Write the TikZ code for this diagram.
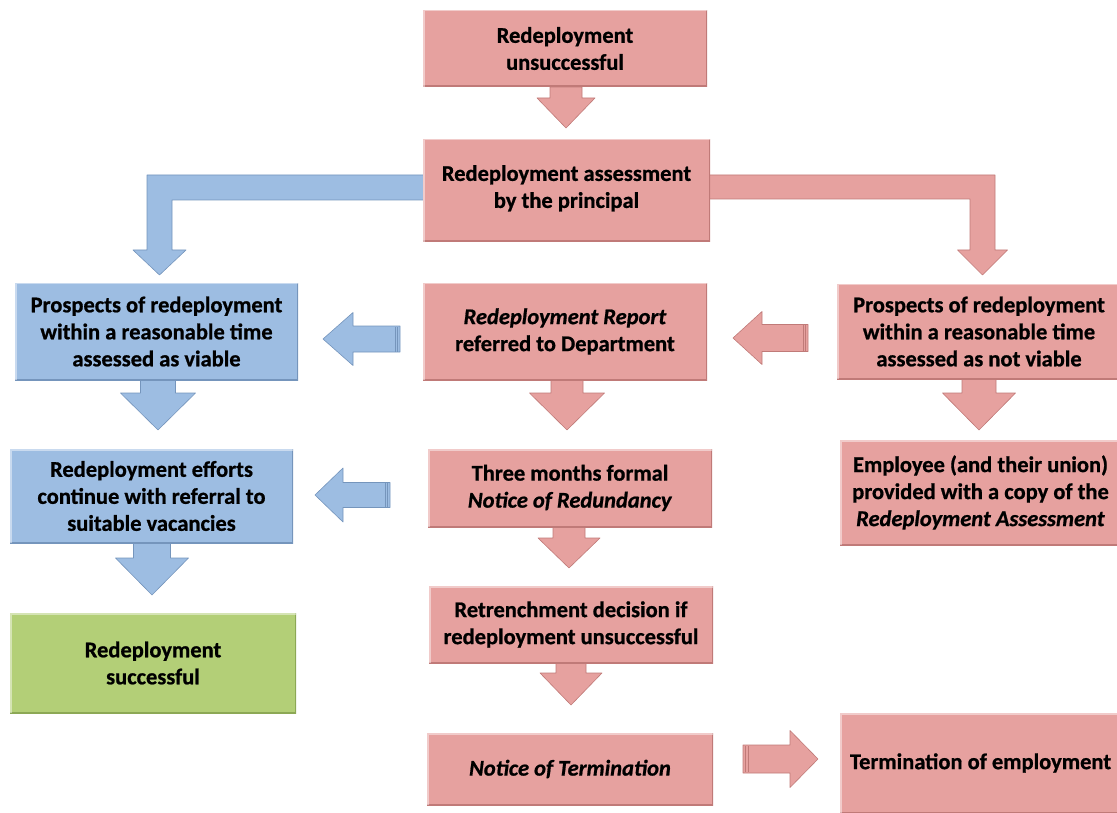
\documentclass[tikz,border=0pt]{standalone}
\usepackage{fontspec}
\setmainfont{Carlito}[BoldFont={Carlito Bold}, ItalicFont={Carlito Italic}, BoldItalicFont={Carlito Bold Italic}, BoldFeatures={FakeBold=0.8}, BoldItalicFeatures={FakeBold=0.8}]
\usetikzlibrary{calc}
\pgfdeclarelayer{background}
\pgfsetlayers{background,main}
\definecolor{pinkf}{HTML}{E6A19F}
\definecolor{pinkd}{HTML}{C07A78}
\definecolor{bluef}{HTML}{9DBDE2}
\definecolor{blued}{HTML}{7595BC}
\definecolor{greenf}{HTML}{B3CF77}
\definecolor{greend}{HTML}{8CA855}
\tikzset{
  bevel/.style 2 args={path picture={
    \draw[line width=3pt,#2] (path picture bounding box.south west) -- (path picture bounding box.south east) -- (path picture bounding box.north east);
    \draw[line width=3pt,white,opacity=0.45] (path picture bounding box.south west) -- (path picture bounding box.north west) -- (path picture bounding box.north east);
  }},
  box/.style={rectangle, inner sep=0pt, align=center, font=\fontsize{22.5}{27}\selectfont\bfseries, text=black},
  pinkbox/.style={box, fill=pinkf, bevel={pinkf}{pinkd}},
  bluebox/.style={box, fill=bluef, bevel={bluef}{blued}},
  greenbox/.style={box, fill=greenf, bevel={greenf}{greend}},
  pinkarr/.style={fill=pinkf, draw=pinkd, line width=0.6pt, line join=round},
  bluearr/.style={fill=bluef, draw=blued, line width=0.6pt, line join=round},
}
% vertical block arrow: style, start (top), tip, shaft half width, head half width, head length
\newcommand\arrdn[6]{\path[#1] let \p1=#2, \p2=#3 in
  (\x2-#4,\y1) -- (\x2+#4,\y1) -- (\x2+#4,\y2+#6) -- (\x2+#5,\y2+#6) -- (\x2,\y2)
  -- (\x2-#5,\y2+#6) -- (\x2-#4,\y2+#6) -- cycle;}
% horizontal block arrow: style, tail, tip, shaft half, head half, head length, direction (1 right, -1 left)
\newcommand\arrh[7]{\path[#1] let \p1=#2, \p2=#3 in
  (\x1,\y2-#4) -- (\x1,\y2+#4) -- (\x2-#7*#6,\y2+#4) -- (\x2-#7*#6,\y2+#5) -- (\x2,\y2)
  -- (\x2-#7*#6,\y2-#5) -- (\x2-#7*#6,\y2-#4) -- cycle;}
\begin{document}
\begin{tikzpicture}[x=1pt,y=-1pt]
\useasboundingbox (0,0) rectangle (1117,813);

% nodes
\node[pinkbox, minimum width=284pt, minimum height=77pt] (b1) at (565,48.5) {Redeployment\\unsuccessful};
\node[pinkbox, minimum width=287pt, minimum height=103pt] (b3) at (566.5,190.5) {Redeployment assessment\\by the principal\\[-19pt]};
\node[bluebox, minimum width=283pt, minimum height=97pt] (b6) at (156.5,331.5) {Prospects of redeployment\\within a reasonable time\\assessed as viable};
\node[pinkbox, minimum width=284pt, minimum height=97pt] (b7) at (565,331.5) {\textit{Redeployment Report}\\referred to Department};
\node[pinkbox, minimum width=284pt, minimum height=95pt] (b8) at (979,331.5) {Prospects of redeployment\\within a reasonable time\\assessed as not viable};
\node[bluebox, minimum width=283pt, minimum height=94pt] (b11) at (151.5,496) {Redeployment efforts\\continue with referral to\\suitable vacancies};
\node[pinkbox, minimum width=284pt, minimum height=78pt] (b12) at (570,488) {Three months formal\\\textit{Notice of Redundancy}};
\node[pinkbox, minimum width=281pt, minimum height=105pt] (b13) at (980.5,492.5) {Employee (and their union)\\provided with a copy of the\\\textit{Redeployment Assessment}};
\node[greenbox, minimum width=286pt, minimum height=100pt] (b16) at (153,663) {Redeployment\\successful};
\node[pinkbox, minimum width=284pt, minimum height=77pt] (b17) at (571,624.5) {Retrenchment decision if\\redeployment unsuccessful};
\node[pinkbox, minimum width=286pt, minimum height=72pt] (b19) at (570,769) {\textit{Notice of Termination}};
\node[pinkbox, minimum width=281pt, minimum height=100pt] (b21) at (980.5,763) {Termination of employment};

% arrow tips and tails
\coordinate (t1) at (566,128);
\coordinate (t6) at (158,430);
\coordinate (t7) at (567,430);
\coordinate (t8) at (979,430);
\coordinate (t10) at (152,595);
\coordinate (t11) at (569,568);
\coordinate (t12) at (571,705);
\coordinate (lt4) at (400,339); \coordinate (lp4) at (323,339);
\coordinate (lt5) at (808,338); \coordinate (lp5) at (733,338);
\coordinate (lt9) at (390,495); \coordinate (lp9) at (315,495);
\coordinate (lt13) at (743,759); \coordinate (lp13) at (818,759);

\begin{pgfonlayer}{background}
% vertical connectors
\arrdn{pinkarr}{(b1.south)}{(t1)}{16pt}{29pt}{30pt}
\arrdn{bluearr}{(b6.south)}{(t6)}{17.5pt}{37.5pt}{37pt}
\arrdn{pinkarr}{(b7.south)}{(t7)}{16pt}{37.5pt}{37pt}
\arrdn{pinkarr}{(b8.south)}{(t8)}{17pt}{36.5pt}{37pt}
\arrdn{bluearr}{(b11.south)}{(t10)}{18.5pt}{36.5pt}{37pt}
\arrdn{pinkarr}{(b12.south)}{(t11)}{16pt}{31pt}{30pt}
\arrdn{pinkarr}{(b17.south)}{(t12)}{15pt}{31pt}{32pt}
% horizontal connectors
\arrh{bluearr}{(lt4)}{(lp4)}{13pt}{26.5pt}{30pt}{-1}
\arrh{pinkarr}{(lt5)}{(lp5)}{13.5pt}{26.5pt}{29pt}{-1}
\arrh{bluearr}{(lt9)}{(lp9)}{12.5pt}{27pt}{28pt}{-1}
\arrh{pinkarr}{(lt13)}{(lp13)}{14pt}{28.5pt}{28pt}{1}
% elbow connectors from b3
\path[bluearr] let \p1=(b3.west) in (\x1+2pt,-175pt) -- (147,175) -- (147,250) -- (133,250) -- (159.5,275) -- (186,250) -- (172,250) -- (172,200) -- (\x1+2pt,-200pt) -- cycle;
\path[pinkarr] let \p1=(b3.east) in (\x1-2pt,-175pt) -- (995,175) -- (995,250) -- (1007.5,250) -- (982.5,275) -- (957.5,250) -- (970,250) -- (970,199) -- (\x1-2pt,-199pt) -- cycle;
% tail stripes of the horizontal connectors
\draw[blued, line width=0.6pt] (395,327) -- (395,352) (397.5,327) -- (397.5,352);
\draw[pinkd, line width=0.6pt] (803,325) -- (803,351) (805.5,325) -- (805.5,351);
\draw[blued, line width=0.6pt] (385,483) -- (385,507) (387.5,483) -- (387.5,507);
\draw[pinkd, line width=0.6pt] (748,746) -- (748,772) (745.5,746) -- (745.5,772);
\end{pgfonlayer}
\end{tikzpicture}
\end{document}
